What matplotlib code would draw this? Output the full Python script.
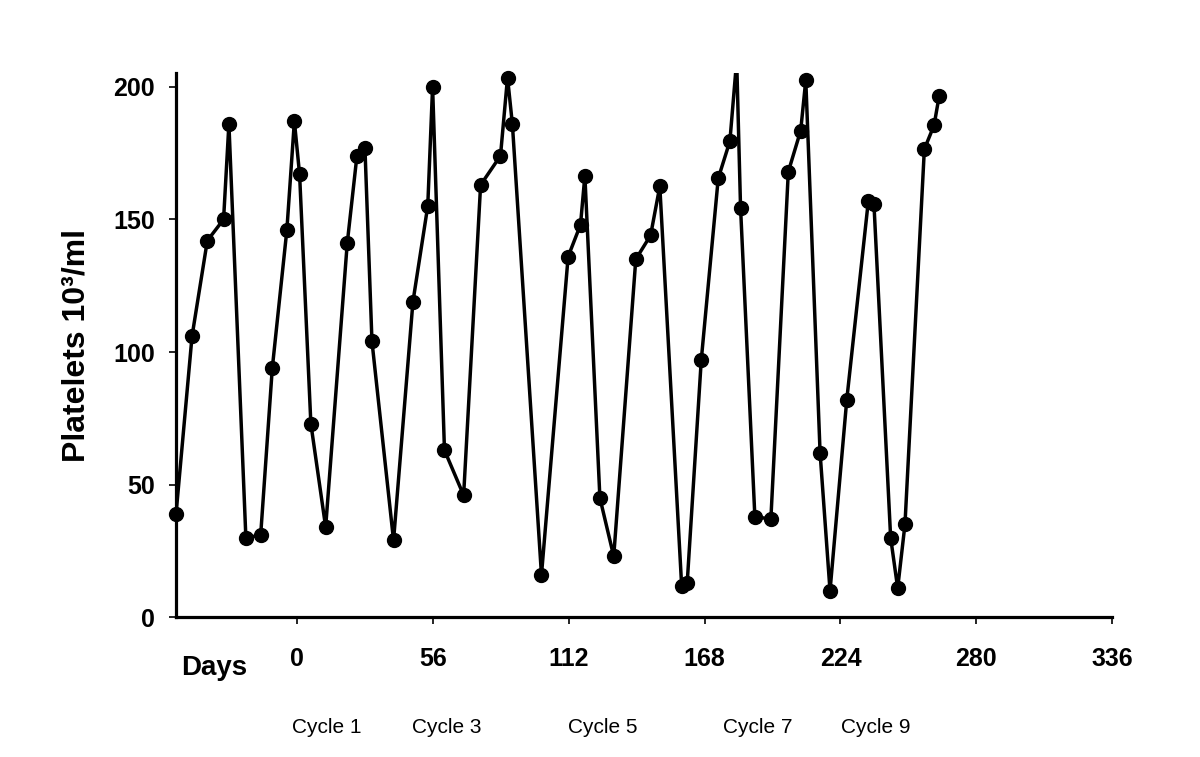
import numpy as np
import matplotlib
matplotlib.use('Agg')
import matplotlib.pyplot as plt

plt.rcParams['font.family'] = ['Liberation Sans', 'DejaVu Sans']

# platelet counts (day, 10^3/ml)
days = [-50.0, -43.4, -37.1, -30.4, -28.2, -21.2, -15.1, -10.3, -4.3, -1.2,
        0.95, 5.6, 11.7, 20.6, 24.6, 27.9, 30.8, 39.7, 47.7, 53.8,
        55.8, 60.7, 68.6, 75.6, 83.8, 86.7, 88.7, 100.7, 111.7, 116.8,
        118.6, 124.8, 130.5, 139.6, 145.7, 149.5, 158.5, 160.8, 166.6, 173.6,
        178.4, 181.2, 182.8, 188.7, 195.3, 202.5, 207.6, 209.7, 215.6, 219.7,
        226.6, 235.5, 237.8, 244.7, 247.6, 250.6, 258.6, 262.6, 264.7]
platelets = [39, 106, 142, 150, 186, 30, 31, 94, 146, 187,
             167, 73, 34, 141, 174, 177, 104, 29, 119, 155,
             200, 63, 46, 163, 174, 203.5, 186, 16, 136, 148,
             166.5, 45, 23, 135, 144, 162.5, 12, 13, 97, 165.5,
             179.5, 210, 154.5, 38, 37, 168, 183.5, 202.5, 62, 10,
             82, 157, 156, 30, 11, 35, 176.5, 185.5, 196.5]

x_ticks = [0, 56, 112, 168, 224, 280, 336]
y_ticks = [0, 50, 100, 150, 200]

cycle_labels = ['Cycle 1', 'Cycle 3', 'Cycle 5', 'Cycle 7', 'Cycle 9']
cycle_pos = [-2.0, 47.3, 111.8, 175.7, 224.1]

xmin, xmax = -50.0, 336
ymin, ymax = 0, 205.3

fig = plt.figure(figsize=(12, 7.57), dpi=100)
ax = fig.add_axes([0.1467, 0.1845, 0.78, 0.7194])

ax.plot(days, platelets, color='black', linewidth=2.5, zorder=2)
y = np.array(platelets, dtype=float)
y_in = np.where(y <= ymax, y, np.nan)
ax.plot(days, y_in, linestyle='none', marker='o', markersize=10,
        color='black', clip_on=False, zorder=3)

ax.set_xlim(xmin, xmax)
ax.set_ylim(ymin, ymax)
ax.set_xticks(x_ticks)
ax.set_yticks(y_ticks)
ax.set_xticklabels([str(t) for t in x_ticks], fontsize=18, fontweight='bold')
ax.set_yticklabels([str(t) for t in y_ticks], fontsize=18, fontweight='bold')

for s in ['top', 'right']:
    ax.spines[s].set_visible(False)
for s in ['left', 'bottom']:
    ax.spines[s].set_linewidth(2.3)

ax.tick_params(axis='x', direction='out', length=5, width=1.2, pad=16)
ax.tick_params(axis='y', direction='out', length=5, width=1.2, pad=10)

ax.set_ylabel('Platelets 10³/ml', fontsize=23, fontweight='bold')
ax.yaxis.set_label_coords(-0.09, 0.5)

fig.text(181 / 1200, 1 - 668 / 757, 'Days', fontsize=20, fontweight='bold',
         ha='left', va='center')

trans = ax.get_xaxis_transform()
for lab, xp in zip(cycle_labels, cycle_pos):
    ax.text(xp, -0.2014, lab, transform=trans, fontsize=15,
            ha='left', va='center', clip_on=False)

fig.savefig('out.png', dpi=100)
